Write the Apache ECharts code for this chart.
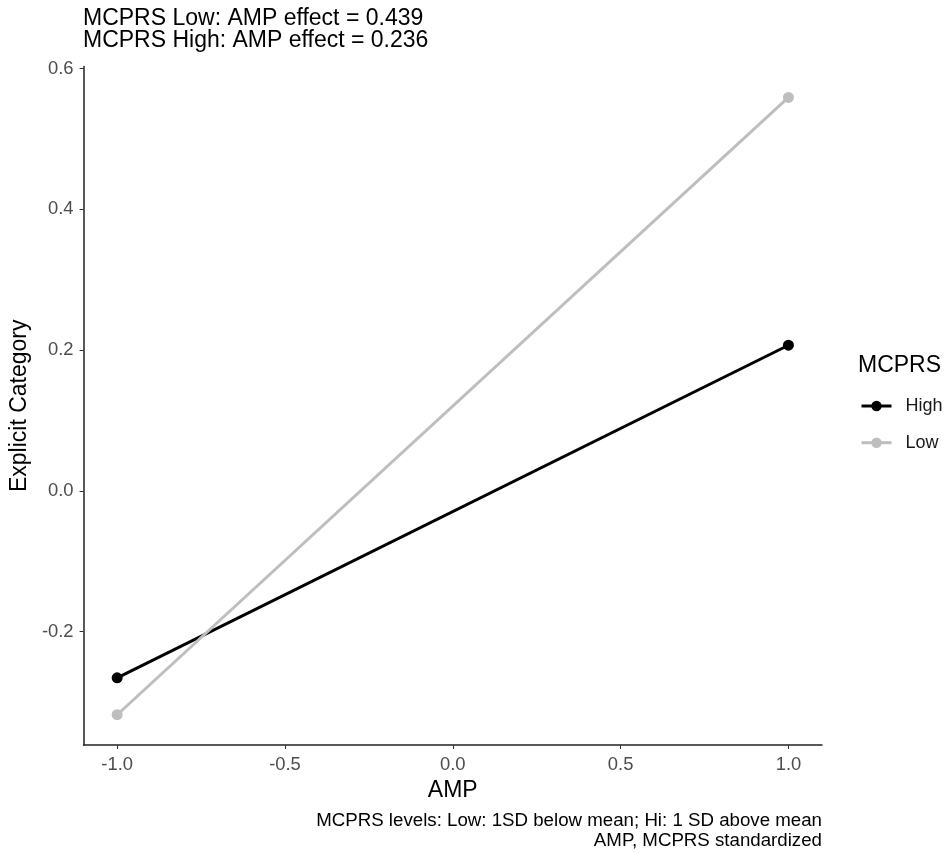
<!DOCTYPE html>
<html><head><meta charset="utf-8">
<script src="https://cdn.jsdelivr.net/npm/echarts@6/dist/echarts.min.js"></script>
<style>html,body{margin:0;padding:0;background:#fff}#c{width:946px;height:854px}</style>
</head><body><div id="c"></div>
<script>
const ampLevels = [-1, 1];
const highValues = [-0.2655, 0.207];
const lowValues = [-0.318, 0.559];
const xTicks = [-1.0, -0.5, 0.0, 0.5, 1.0];
const yTicks = [-0.2, 0.0, 0.2, 0.4, 0.6];
const titleLines = ['MCPRS Low: AMP effect = 0.439', 'MCPRS High: AMP effect = 0.236'];
const captionLines = ['MCPRS levels: Low: 1SD below mean; Hi: 1 SD above mean', 'AMP, MCPRS standardized'];

const font = 'Liberation Sans, Arial, sans-serif';
const chart = echarts.init(document.getElementById('c'));
chart.setOption({
  animation: false,
  backgroundColor: '#fff',
  grid: {left: 83, right: 124, top: 66.5, bottom: 109, containLabel: false},
  xAxis: {
    type: 'value', min: -1.1, max: 1.1,
    name: 'AMP', nameLocation: 'middle', nameGap: 33,
    nameTextStyle: {fontFamily: font, fontSize: 23, color: '#000'},
    axisLine: {show: true, onZero: false, lineStyle: {color: '#222', width: 1.5}},
    axisTick: {show: true, length: 4, customValues: xTicks, lineStyle: {color: '#333'}},
    axisLabel: {customValues: xTicks, fontFamily: font, fontSize: 18.4, color: '#4d4d4d', margin: 11,
      formatter: v => v.toFixed(1)},
    splitLine: {show: false}
  },
  yAxis: {
    type: 'value', min: -0.361, max: 0.603,
    name: 'Explicit Category', nameLocation: 'middle', nameGap: 50,
    nameTextStyle: {fontFamily: font, fontSize: 23, color: '#000'},
    axisLine: {show: true, onZero: false, lineStyle: {color: '#222', width: 1.5}},
    axisTick: {show: true, length: 4, customValues: yTicks, lineStyle: {color: '#333'}},
    axisLabel: {customValues: yTicks, fontFamily: font, fontSize: 18.4, color: '#4d4d4d', margin: 10,
      formatter: v => v.toFixed(1)},
    splitLine: {show: false}
  },
  legend: {
    orient: 'vertical', left: 855, top: 392, itemWidth: 30, itemHeight: 13, itemGap: 18.7,
    lineStyle: {width: 3},
    textStyle: {fontFamily: font, fontSize: 18, color: '#1a1a1a', padding: [0,0,0,9], lineHeight: 18},
    data: ['High', 'Low']
  },
  graphic: [
    {type: 'text', x: 83, y: 18.4, style: {text: titleLines[0], font: '23px ' + font, fill: '#000', verticalAlign: 'middle'}},
    {type: 'text', x: 83, y: 40.7, style: {text: titleLines[1], font: '23px ' + font, fill: '#000', verticalAlign: 'middle'}},
    {type: 'text', x: 858, y: 366, style: {text: 'MCPRS', font: '23px ' + font, fill: '#000', verticalAlign: 'middle'}},
    {type: 'text', x: 822, y: 821, style: {text: captionLines[0], font: '18.7px ' + font, fill: '#000', align: 'right', verticalAlign: 'middle'}},
    {type: 'text', x: 822, y: 841, style: {text: captionLines[1], font: '18.7px ' + font, fill: '#000', align: 'right', verticalAlign: 'middle'}}
  ],
  series: [
    {name: 'High', type: 'line', data: ampLevels.map((x, i) => [x, highValues[i]]),
      symbol: 'circle', symbolSize: 11, color: '#000', lineStyle: {width: 3, color: '#000'}, itemStyle: {color: '#000'}},
    {name: 'Low', type: 'line', data: ampLevels.map((x, i) => [x, lowValues[i]]),
      symbol: 'circle', symbolSize: 11, color: '#bebebe', lineStyle: {width: 3, color: '#bebebe'}, itemStyle: {color: '#bebebe'}}
  ]
});
</script></body></html>
